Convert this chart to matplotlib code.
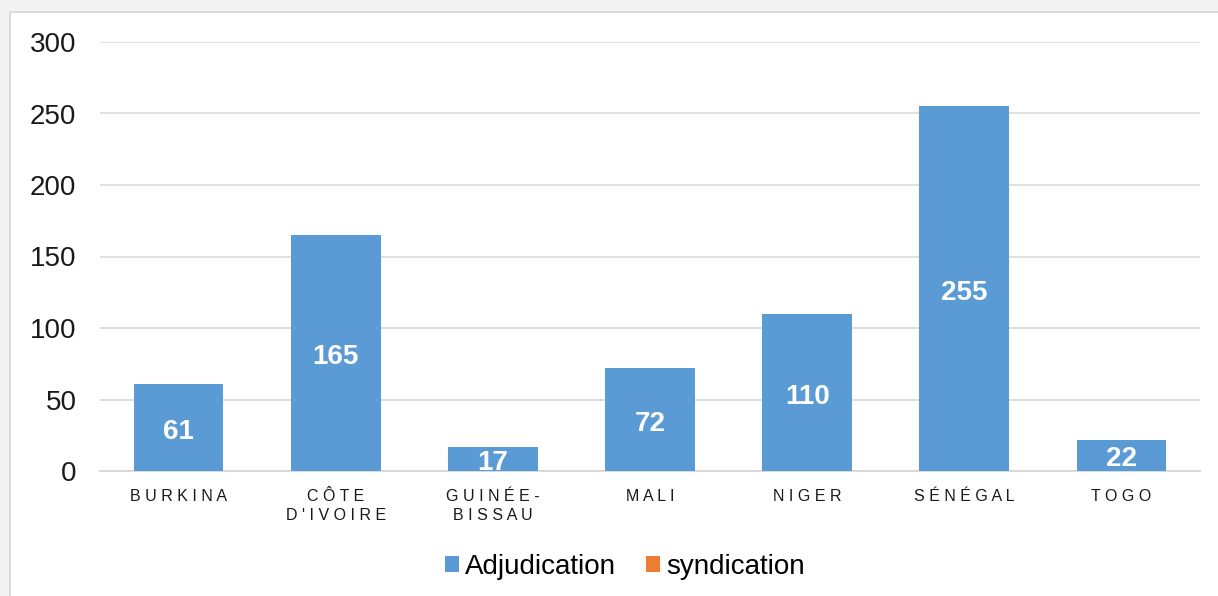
import numpy as np
import matplotlib.pyplot as plt
from matplotlib.patches import Rectangle
from matplotlib.transforms import offset_copy

categories = ['B U R K I N A', 'C Ô T E\nD \' I V O I R E', 'G U I N É E -\nB I S S A U',
              'M A L I', 'N I G E R', 'S É N É G A L', 'T O G O']
adjudication = [61, 165, 17, 72, 110, 255, 22]
syndication = [0, 0, 0, 0, 0, 0, 0]
yticks = [0, 50, 100, 150, 200, 250, 300]

plt.rcParams['font.family'] = ['Liberation Sans', 'DejaVu Sans']

fig = plt.figure(figsize=(12.18, 5.96), dpi=100, facecolor='#f3f3f3')

# white chart frame
fig.patches.append(Rectangle((10 / 1218, -0.05), 1.2, 1 - 12 / 596 + 0.05,
                             transform=fig.transFigure, facecolor='white',
                             edgecolor='#d6d6d6', linewidth=1.2, zorder=-10))

ax = fig.add_axes([100 / 1218, 1 - 471 / 596, 1100 / 1218, (471 - 42) / 596])
ax.set_zorder(1)
ax.set_facecolor('none')

x = np.arange(len(categories))
ax.bar(x, adjudication, width=0.57, color='#5b9bd5', label='Adjudication', zorder=3)
ax.bar(x, syndication, width=0.57, bottom=adjudication, color='#ed7d31', label='syndication', zorder=3)

# value labels in the middle of each bar, nudged down a little
lbl_tr = offset_copy(ax.transData, fig=fig, y=-3, units='points')
for xi, v in zip(x, adjudication):
    ax.text(xi, v / 2, str(v), transform=lbl_tr, ha='center', va='center',
            color='white', fontsize=20, fontweight='bold', zorder=4)

ax.set_xlim(-0.5, len(categories) - 0.5)
ax.set_ylim(0, 300)
ax.set_yticks(yticks)
ax.set_xticks(x)
ax.set_xticklabels(categories, fontsize=11.5, color='#1a1a1a', linespacing=1.35)
ax.tick_params(axis='y', labelsize=20, labelcolor='#1a1a1a', length=0, pad=17)
ax.tick_params(axis='x', length=0, pad=13)

ax.grid(True, axis='y', color='#d9d9d9', linewidth=1.2, zorder=0)
for s in ['top', 'right', 'left']:
    ax.spines[s].set_visible(False)
ax.spines['bottom'].set_color('#d9d9d9')
ax.spines['bottom'].set_linewidth(1.5)

fig.legend(loc='center', bbox_to_anchor=(0.513, 0.049), ncol=2, frameon=False,
           fontsize=20, handlelength=0.5, handleheight=0.5, handletextpad=0.2,
           columnspacing=1.1)

plt.savefig('out.png', dpi=100, facecolor=fig.get_facecolor())
